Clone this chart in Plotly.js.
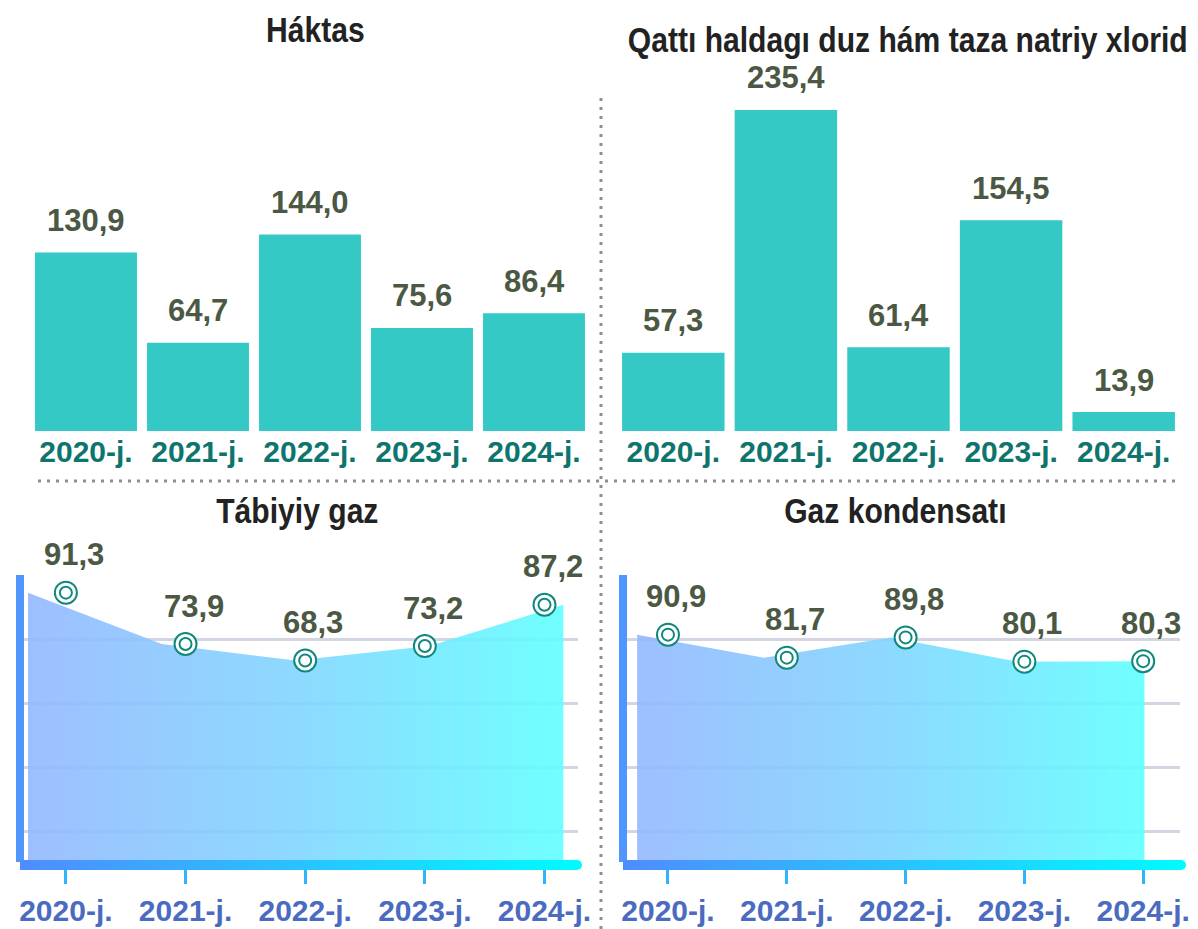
<!DOCTYPE html>
<html>
<head>
<meta charset="utf-8">
<script src="https://cdn.plot.ly/plotly-3.0.1.min.js"></script>
<style>html,body{margin:0;padding:0;background:#fff;}#chart{width:1198px;height:929px;}</style>
</head>
<body>
<div id="chart"></div>
<script>
// ---------- data ----------
const years = ['2020-j.', '2021-j.', '2022-j.', '2023-j.', '2024-j.'];
const haktas = [130.9, 64.7, 144.0, 75.6, 86.4];
const duz = [57.3, 235.4, 61.4, 154.5, 13.9];
const gaz = [91.3, 73.9, 68.3, 73.2, 87.2];
const kondensat = [90.9, 81.7, 89.8, 80.1, 80.3];
const titles = ['Háktas', 'Qattı haldagı duz hám taza natriy xlorid', 'Tábiyiy gaz', 'Gaz kondensatı'];

// ---------- helpers ----------
const W = 1198, H = 929;
const px = v => v / W;
const py = v => 1 - v / H;
const fmt = v => v.toFixed(1).replace('.', ',');
const pos = years.map((_, i) => i);

const BAR = '#34c9c4';
const VAL = '#4b5843';
const CAT_TOP = '#0e756e';
const CAT_BOT = '#4a6bbf';
const RING = '#10897c';
const BOLD = 'Liberation Sans, Arial, sans-serif';

const grad = {type: 'horizontal', colorscale: [[0, 'rgba(147,184,255,0.9)'], [0.5, 'rgba(126,212,255,0.88)'], [1, 'rgba(96,255,255,0.9)']]};

const traces = [
  {type: 'bar', x: years, y: haktas, xaxis: 'x', yaxis: 'y', marker: {color: BAR}, hoverinfo: 'skip'},
  {type: 'bar', x: years, y: duz, xaxis: 'x2', yaxis: 'y2', marker: {color: BAR}, hoverinfo: 'skip'},
  {type: 'scatter', mode: 'lines', x: pos, y: gaz, xaxis: 'x3', yaxis: 'y3', fill: 'tozeroy',
   line: {width: 0, color: 'rgba(0,0,0,0)'}, fillgradient: grad, hoverinfo: 'skip'},
  {type: 'scatter', mode: 'lines', x: pos, y: kondensat, xaxis: 'x4', yaxis: 'y4', fill: 'tozeroy',
   line: {width: 0, color: 'rgba(0,0,0,0)'}, fillgradient: grad, hoverinfo: 'skip'},
];
[[gaz, 'x5', 'y3'], [kondensat, 'x6', 'y4']].forEach(([vals, xa, ya]) => {
  traces.push({type: 'scatter', mode: 'markers', x: pos, y: vals, xaxis: xa, yaxis: ya,
    marker: {size: 22, color: '#ffffff', line: {color: RING, width: 2}}, hoverinfo: 'skip'});
  traces.push({type: 'scatter', mode: 'markers', x: pos, y: vals, xaxis: xa, yaxis: ya,
    marker: {size: 12, color: '#ffffff', line: {color: RING, width: 2}}, hoverinfo: 'skip'});
});

// ---------- annotations ----------
const annotations = [];
[[haktas, 'x', 'y'], [duz, 'x2', 'y2']].forEach(([vals, xr, yr]) => {
  vals.forEach((v, i) => annotations.push({xref: xr, yref: yr, x: years[i], y: v, text: fmt(v),
    showarrow: false, yanchor: 'middle', yshift: 32,
    font: {family: BOLD, size: 31, color: VAL, weight: 700}}));
});
[[gaz, 'x5', 'y3'], [kondensat, 'x6', 'y4']].forEach(([vals, xr, yr]) => {
  vals.forEach((v, i) => annotations.push({xref: xr, yref: yr, x: i, y: v, text: fmt(v),
    showarrow: false, yanchor: 'middle', xshift: 8, yshift: 38,
    font: {family: BOLD, size: 31, color: VAL, weight: 700}}));
});
const titlePos = [[315, 30], [908, 39], [297, 510], [895, 510]];
titles.forEach((t, i) => annotations.push({xref: 'paper', yref: 'paper', x: px(titlePos[i][0]), y: py(titlePos[i][1]),
  text: t, showarrow: false, xanchor: 'center', yanchor: 'middle', borderpad: 0,
  font: {family: BOLD, size: 35, color: '#222222', weight: 700}}));

// ---------- axes ----------
const hidden = {showgrid: false, zeroline: false, showticklabels: false, ticks: '', showline: false, fixedrange: true};
const topX = dom => ({domain: dom, type: 'category', showgrid: false, zeroline: false, showline: false, ticks: '',
  tickfont: {family: BOLD, size: 30, color: CAT_TOP, weight: 700}, ticklabelstandoff: 0, fixedrange: true});
const topY = Object.assign({}, hidden, {domain: [py(431), py(60)], range: [0, 272]});

const botYDom = [py(862), py(575)];
const botY = (r1) => ({domain: botYDom, range: [0, r1 * 1.003], showgrid: true, gridcolor: '#d3d5e3', gridwidth: 3,
  tick0: r1, dtick: r1 * 0.2232, zeroline: false, showticklabels: false, ticks: '',
  showline: true, linecolor: '#5196ff', linewidth: 8, fixedrange: true});
const botXTicks = (over, anchor, range) => ({overlaying: over, anchor: anchor, range: range,
  tickmode: 'array', tickvals: pos, ticktext: years, ticks: 'outside', ticklen: 21, tickwidth: 3, tickcolor: '#2fb4ff',
  showgrid: false, zeroline: false, showline: false, ticklabelstandoff: 1,
  tickfont: {family: BOLD, size: 30, color: CAT_BOT, weight: 700}, fixedrange: true});

// gradient bottom axis bars (decoration)
const barSvg = (w) => 'data:image/svg+xml;utf8,' + encodeURIComponent(
  `<svg xmlns="http://www.w3.org/2000/svg" width="${w}" height="10" viewBox="0 0 ${w} 10">` +
  `<defs><linearGradient id="g" gradientUnits="userSpaceOnUse" x1="0" x2="${w}" y1="0" y2="0"><stop offset="0" stop-color="#4f8cff"/><stop offset="1" stop-color="#00fbff"/></linearGradient></defs>` +
  `<rect x="0" y="0" width="${w}" height="10" rx="5" fill="url(#g)"/><rect x="0" y="0" width="${w / 2}" height="10" fill="url(#g)"/></svg>`);
const images = [[20, 582], [623, 1186]].map(([a, b]) => ({source: barSvg(b - a), xref: 'paper', yref: 'paper',
  x: px(a), y: py(860), sizex: px(b - a), sizey: 10 / H, xanchor: 'left', yanchor: 'top', sizing: 'stretch', layer: 'above'}));

const dot = {color: '#8f8f8f', width: 3, dash: '3px,6px'};
const shapes = [
  {type: 'line', xref: 'paper', yref: 'paper', x0: px(601), x1: px(601), y0: 0, y1: py(95), line: dot},
  {type: 'line', xref: 'paper', yref: 'paper', x0: px(38), x1: px(1176), y0: py(481), y1: py(481), line: dot},
];

const layout = {
  width: W, height: H, margin: {l: 0, r: 0, t: 0, b: 0},
  paper_bgcolor: '#ffffff', plot_bgcolor: 'rgba(0,0,0,0)', showlegend: false, bargap: 0.09,
  xaxis: topX([px(30), px(590)]), yaxis: Object.assign({}, topY, {anchor: 'x'}),
  xaxis2: Object.assign(topX([px(617), px(1180)]), {anchor: 'y2'}), yaxis2: Object.assign({}, topY, {anchor: 'x2'}),
  xaxis3: Object.assign({}, hidden, {domain: [px(24), px(578)], range: [-0.03, 4.11], anchor: 'y3'}),
  yaxis3: Object.assign(botY(97), {anchor: 'x3'}),
  xaxis4: Object.assign({}, hidden, {domain: [px(627), px(1180)], range: [-0.08, 4.28], anchor: 'y4'}),
  yaxis4: Object.assign(botY(114.4), {anchor: 'x4'}),
  xaxis5: botXTicks('x3', 'y3', [-0.35, 4.28]),
  xaxis6: botXTicks('x4', 'y4', [-0.345, 4.31]),
  annotations: annotations, shapes: shapes, images: images,
};

Plotly.newPlot('chart', traces, layout, {staticPlot: true, displayModeBar: false}).then(gd => {
  // condensed look of the panel titles: horizontal squeeze about each title's centre
  gd.querySelectorAll('.annotation-text').forEach(t => {
    if (titles.includes(t.textContent)) {
      const bb = t.getBBox();
      const cx = bb.x + bb.width / 2;
      t.setAttribute('transform', `translate(${cx.toFixed(1)},0) scale(0.86,1) translate(${(-cx).toFixed(1)},0)`);
      const rect = t.parentNode.querySelector('rect.bg');
      if (rect) {
        const rw = parseFloat(rect.getAttribute('width'));
        const rx = parseFloat(rect.getAttribute('x') || 0);
        const d = rw * 0.14;
        rect.setAttribute('width', (rw - d).toFixed(1));
        rect.setAttribute('x', (rx + d / 2).toFixed(1));
      }
    }
  });
});
</script>
</body>
</html>
